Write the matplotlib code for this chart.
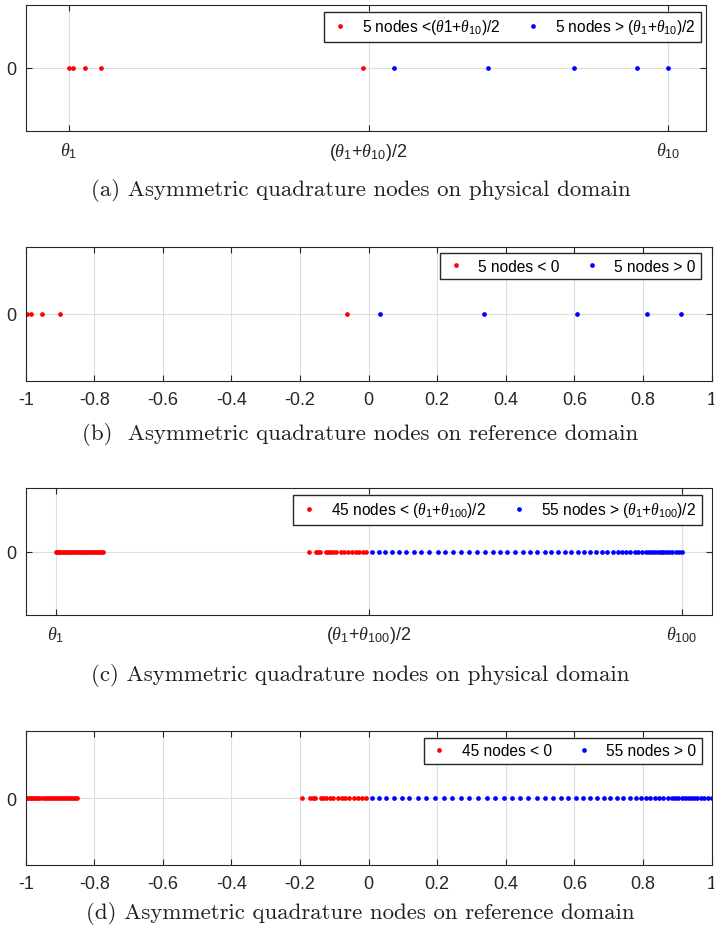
import numpy as np
import matplotlib.pyplot as plt

plt.rcParams['font.family'] = ['Liberation Sans', 'DejaVu Sans']
plt.rcParams['mathtext.fontset'] = 'custom'
plt.rcParams['mathtext.rm'] = 'Liberation Sans'
plt.rcParams['mathtext.it'] = 'Liberation Serif:italic'
plt.rcParams['axes.unicode_minus'] = False

# (a) 10 nodes, physical domain (theta_1 -> 0, theta_10 -> 1)
phys10_left = [0.0, 0.006, 0.026, 0.053, 0.490]
phys10_right = [0.542, 0.700, 0.843, 0.949, 1.000]

# (b) 10 nodes, reference domain
ref10_left = [-0.997, -0.986, -0.953, -0.900, -0.063]
ref10_right = [0.034, 0.336, 0.609, 0.812, 0.911]

# (c)/(d) 100 nodes, reference domain
ref100_left = [-1.000, -0.998, -0.995, -0.991, -0.986, -0.981, -0.975, -0.969,
               -0.963, -0.957, -0.951, -0.945, -0.939, -0.933, -0.927, -0.921,
               -0.915, -0.909, -0.903, -0.897, -0.891, -0.885, -0.879, -0.873,
               -0.867, -0.862, -0.857, -0.851,
               -0.193, -0.171, -0.163, -0.157, -0.138, -0.132, -0.124, -0.114,
               -0.104, -0.089, -0.079, -0.068, -0.056, -0.043, -0.031, -0.019,
               -0.009]
ref100_right = [0.009, 0.031, 0.052, 0.073, 0.096, 0.119, 0.143, 0.166,
                0.1925, 0.219, 0.244, 0.269, 0.294, 0.320, 0.344, 0.369,
                0.3945, 0.418, 0.442, 0.466, 0.491, 0.515, 0.538, 0.561,
                0.5825, 0.604, 0.625, 0.646, 0.666, 0.686, 0.705, 0.724,
                0.743, 0.761, 0.779, 0.794, 0.808, 0.821, 0.835, 0.848,
                0.860, 0.872, 0.884, 0.893, 0.903, 0.913, 0.922, 0.931,
                0.940, 0.949, 0.959, 0.969, 0.979, 0.990, 1.000]

ref_ticks = [-1, -0.8, -0.6, -0.4, -0.2, 0, 0.2, 0.4, 0.6, 0.8, 1]
ref_ticklabels = ['-1', '-0.8', '-0.6', '-0.4', '-0.2', '0', '0.2', '0.4', '0.6', '0.8', '1']

captions = ['(a) Asymmetric quadrature nodes on physical domain',
            '(b)  Asymmetric quadrature nodes on reference domain',
            '(c) Asymmetric quadrature nodes on physical domain',
            '(d) Asymmetric quadrature nodes on reference domain']

edge = '#262626'


def draw_panel(ax, left, right, labels, xlim, ticks, ticklabels, anchor):
    ax.plot(left, np.zeros(len(left)), 'o', color='red', ms=3.4, mew=0, label=labels[0])
    ax.plot(right, np.zeros(len(right)), 'o', color='blue', ms=3.4, mew=0, label=labels[1])
    ax.set_xlim(xlim)
    ax.set_ylim(-1, 1)
    ax.set_yticks([0])
    ax.set_xticks(ticks)
    ax.set_xticklabels(ticklabels)
    ax.grid(True, color='#dedede', lw=0.8)
    ax.set_axisbelow(True)
    ax.tick_params(direction='in', top=True, right=True, length=4, color=edge,
                   labelsize=13, labelcolor=edge, pad=7)
    ax.tick_params(axis='y', pad=7)
    for s in ax.spines.values():
        s.set_color(edge)
        s.set_linewidth(0.8)
    ax.legend(loc='upper right', bbox_to_anchor=anchor, borderaxespad=0, ncol=2,
              fancybox=False, edgecolor=edge, framealpha=1, fontsize=11.2,
              handlelength=1.3, handletextpad=0.8, columnspacing=1.4,
              borderpad=0.35)


fig = plt.figure(figsize=(7.14, 9.28), dpi=100)

ax_a = fig.add_axes([0.036, 0.8578, 0.9528, 0.1361])
draw_panel(ax_a, phys10_left, phys10_right,
           [r'5 nodes <($\theta$1+$\theta_{10}$)/2', r'5 nodes > ($\theta_1$+$\theta_{10}$)/2'],
           (-0.0723, 1.0634), [0, 0.5, 1],
           [r'$\theta_1$', r'($\theta_1$+$\theta_{10}$)/2', r'$\theta_{10}$'],
           (0.9927, 0.9446))

ax_b = fig.add_axes([0.036, 0.5884, 0.9605, 0.1444])
draw_panel(ax_b, ref10_left, ref10_right, ['5 nodes < 0', '5 nodes > 0'],
           (-1, 1), ref_ticks, ref_ticklabels, (0.9847, 0.953))

ax_c = fig.add_axes([0.036, 0.3365, 0.9605, 0.1362])
draw_panel(ax_c, ref100_left, ref100_right,
           [r'45 nodes < ($\theta_1$+$\theta_{100}$)/2', r'55 nodes > ($\theta_1$+$\theta_{100}$)/2'],
           (-1.0968, 1.0939), [-1, 0, 1],
           [r'$\theta_1$', r'($\theta_1$+$\theta_{100}$)/2', r'$\theta_{100}$'],
           (0.9857, 0.947))

ax_d = fig.add_axes([0.036, 0.0668, 0.9605, 0.1444])
draw_panel(ax_d, ref100_left, ref100_right, ['45 nodes < 0', '55 nodes > 0'],
           (-1, 1), ref_ticks, ref_ticklabels, (0.9857, 0.948))

for y, cap in zip([0.7942, 0.5323, 0.2726, 0.0155], captions):
    fig.text(0.505, y, cap, family='cmr10', fontsize=16.5, ha='center', va='center', color='#202020')

fig.savefig('out.png', dpi=100)
